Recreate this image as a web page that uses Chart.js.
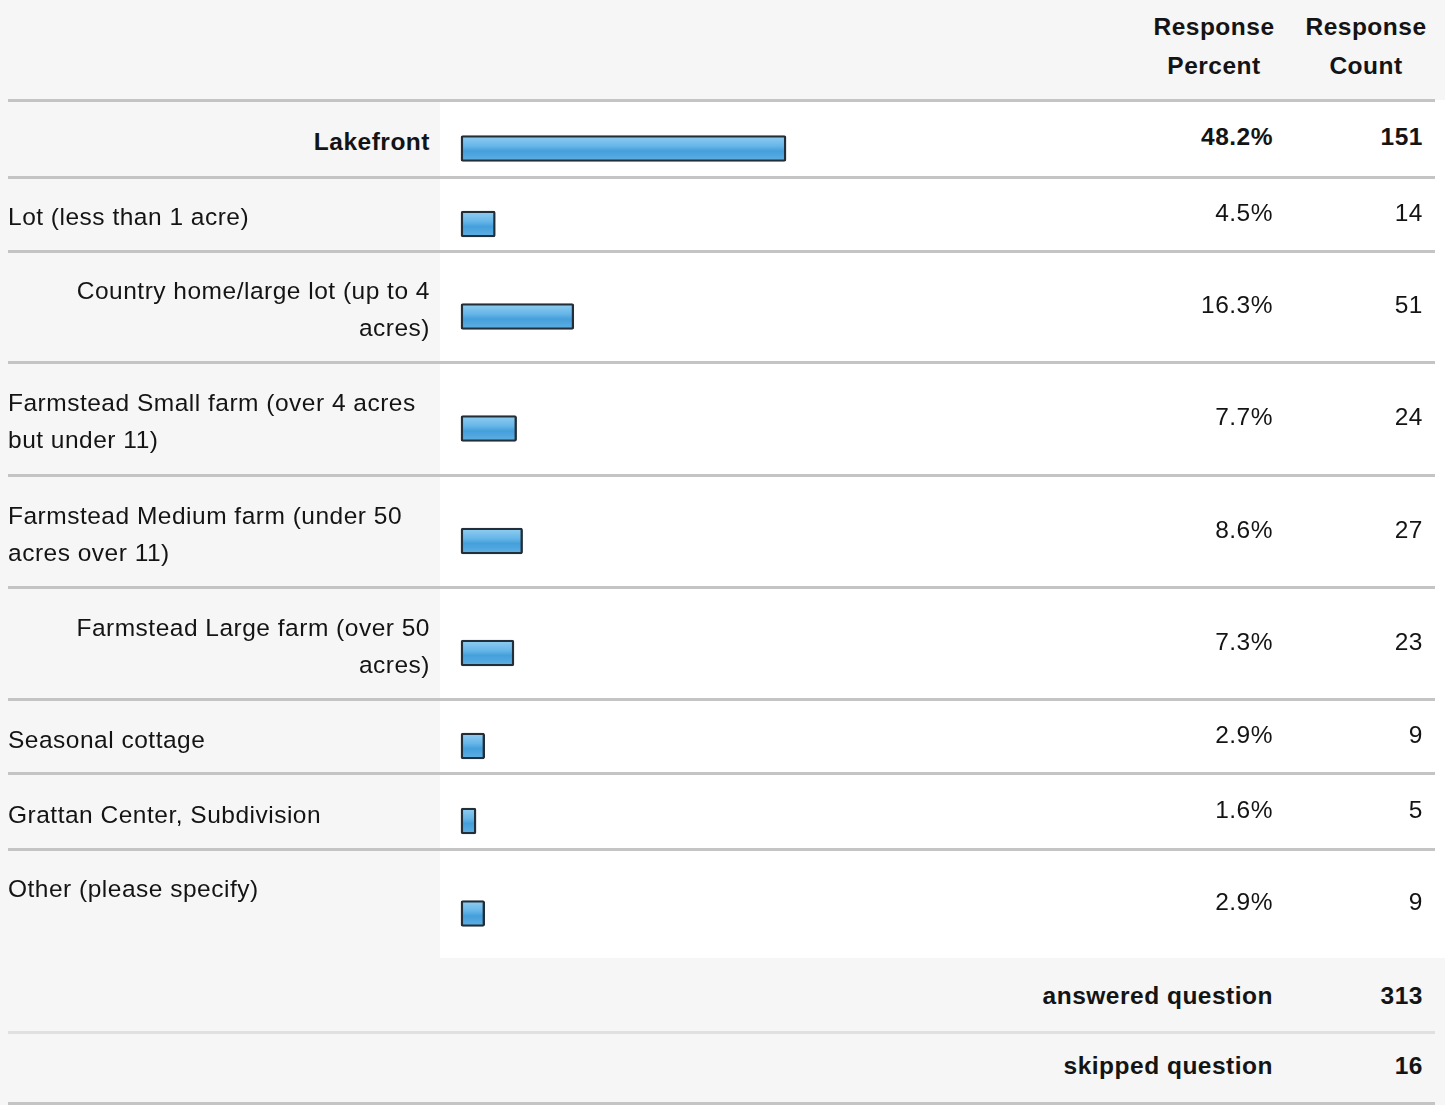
<!DOCTYPE html>
<html>
<head>
<meta charset="utf-8">
<title>Response table</title>
<script src="https://cdn.jsdelivr.net/npm/chart.js@4.4.0/dist/chart.umd.min.js"></script>
<style>
  html, body {
    margin: 0;
    padding: 0;
    background: #f6f6f6;
  }
  #sheet {
    position: relative;
    width: 1445px;
    height: 1105px;
    overflow: hidden;
    font-family: "Liberation Sans", Arial, sans-serif;
    font-size: 24.5px;
    letter-spacing: 0.5px;
    color: #141414;
  }
  .panel {
    position: absolute;
    background: #ffffff;
  }
  .rule {
    position: absolute;
    left: 8px;
    width: 1427px;
    height: 3px;
    background: #c4c4c4;
  }
  .cell {
    position: absolute;
    display: flex;
    align-items: center;
    line-height: 37px;
    white-space: nowrap;
  }
  .cell span {
    position: relative;
  }
  .bold {
    font-weight: bold;
  }
  canvas {
    position: absolute;
  }
</style>
</head>
<body>
<div id="sheet"></div>
<script>
// chart data
const categories = [
  ["Lakefront"],
  ["Lot (less than 1 acre)"],
  ["Country home/large lot (up to 4", "acres)"],
  ["Farmstead Small farm (over 4 acres", "but under 11)"],
  ["Farmstead Medium farm (under 50", "acres over 11)"],
  ["Farmstead Large farm (over 50", "acres)"],
  ["Seasonal cottage"],
  ["Grattan Center, Subdivision"],
  ["Other (please specify)"],
];
const responsePercent = [48.2, 4.5, 16.3, 7.7, 8.6, 7.3, 2.9, 1.6, 2.9];
const responseCount = [151, 14, 51, 24, 27, 23, 9, 5, 9];
const headerLabels = [["Response", "Percent"], ["Response", "Count"]];
const summaryLabels = ["answered question", "skipped question"];
const summaryValues = [313, 16];

// layout (px)
const tableTop = 100;
const rowHeights = [77, 74, 111, 113, 112, 112, 74, 76, 109];
const summaryHeights = [74, 71];
const summaryShift = [0, -2];
const alignRight = [true, false, true, false, false, true, false, false, false];
const labelShift = [3, 2, 2, 2, 3, 3, 3, 3, -15];
const zeroX = 465.4;   // where 0% sits; every bar gets a small stub to the left of it
const barSpan = 665.2; // pixels for 100%
const barStub = -0.66; // % units of the stub, so bars start at x = 461
const canvasLeft = 440;
const canvasWidth = 720;
const percentRight = 1273;
const countRight = 1423;

const sheet = document.getElementById("sheet");

function addDiv(cls, style, html) {
  const d = document.createElement("div");
  d.className = cls;
  Object.assign(d.style, style);
  if (html !== undefined) d.innerHTML = html;
  sheet.appendChild(d);
  return d;
}

function addCell(text, top, height, left, width, align, shift, bold) {
  const cell = addDiv("cell" + (bold ? " bold" : ""), {
    top: top + "px",
    height: height + "px",
    left: left + "px",
    width: width + "px",
    justifyContent: align === "right" ? "flex-end" : align === "center" ? "center" : "flex-start",
    textAlign: align,
  });
  const span = document.createElement("span");
  span.style.top = shift + "px";
  span.innerHTML = text;
  cell.appendChild(span);
  return cell;
}

// white panel behind bars and values
const tableBottom = tableTop + rowHeights.reduce((a, b) => a + b, 0);
addDiv("panel", { left: "440px", top: tableTop + "px", width: "1005px", height: tableBottom - tableTop + "px" });

// header
const h1 = addCell(headerLabels[0].join("<br>"), 6, 80, 1134, 160, "center", 0, true);
const h2 = addCell(headerLabels[1].join("<br>"), 6, 80, 1288, 156, "center", 0, true);
h1.style.lineHeight = h2.style.lineHeight = "39px";

// gradient fill for the bars
function barFill(context) {
  const chart = context.chart;
  const area = chart.chartArea;
  if (!area) return "#4aa3dd";
  const mid = (area.top + area.bottom) / 2;
  const g = chart.ctx.createLinearGradient(0, mid - 13, 0, mid + 13);
  g.addColorStop(0, "#94cff2");
  g.addColorStop(0.4, "#66b6e8");
  g.addColorStop(0.6, "#459fdb");
  g.addColorStop(1, "#5fb1e4");
  return g;
}

let y = tableTop;
categories.forEach((label, i) => {
  const h = rowHeights[i];
  const bold = i === 0;

  addDiv("rule", { top: y - 1 + "px" });

  addCell(label.join("<br>"), y, h, 8, 422, alignRight[i] ? "right" : "left", labelShift[i], bold);
  addCell(responsePercent[i].toFixed(1) + "%", y, h, percentRight - 150, 150, "right", -2, bold);
  addCell(String(responseCount[i]), y, h, countRight - 100, 100, "right", -2, bold);

  const canvas = document.createElement("canvas");
  canvas.width = canvasWidth;
  canvas.height = h;
  canvas.style.left = canvasLeft + "px";
  canvas.style.top = y + "px";
  sheet.appendChild(canvas);

  const padLeft = zeroX - canvasLeft;
  new Chart(canvas.getContext("2d"), {
    type: "bar",
    data: {
      labels: [label],
      datasets: [
        {
          data: [responsePercent[i]],
          base: barStub,
          clip: false,
          backgroundColor: barFill,
          borderColor: "#222f38",
          borderWidth: 2.4,
          borderRadius: 2,
          borderSkipped: false,
          barThickness: 26,
        },
      ],
    },
    options: {
      indexAxis: "y",
      responsive: false,
      animation: false,
      layout: { padding: { left: padLeft, right: canvasWidth - padLeft - barSpan, top: 20, bottom: 0 } },
      scales: {
        x: { type: "linear", min: 0, max: 100, display: false },
        y: { type: "category", display: false },
      },
      plugins: { legend: { display: false }, tooltip: { enabled: false } },
    },
  });

  y += h;
});

// summary rows
summaryLabels.forEach((label, i) => {
  const h = summaryHeights[i];
  if (i > 0) {
    const r = addDiv("rule", { top: y - 1 + "px" });
    r.style.background = "#e0e0e0";
  }
  addCell(label, y, h, percentRight - 400, 400, "right", summaryShift[i], true);
  addCell(String(summaryValues[i]), y, h, countRight - 100, 100, "right", summaryShift[i], true);
  y += h;
});
addDiv("rule", { top: y - 1 + "px" });
</script>
</body>
</html>
